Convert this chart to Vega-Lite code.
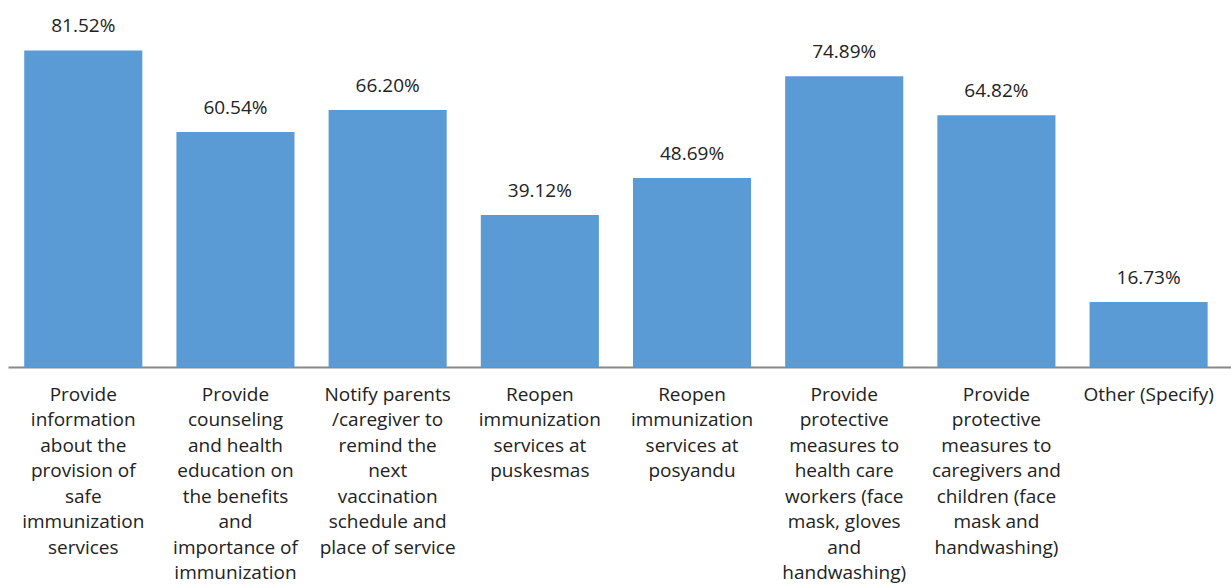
{
  "$schema": "https://vega.github.io/schema/vega-lite/v6.json",
  "width": 1223,
  "height": 367,
  "autosize": {"type": "none"},
  "padding": {"left": 8, "top": 0, "right": 0, "bottom": 219},
  "background": "white",
  "config": {"view": {"stroke": null}, "font": "Open Sans"},
  "data": {
    "values": [
      {"label": "Provide|information|about the|provision of|safe|immunization|services", "value": 0.8152},
      {"label": "Provide|counseling|and health|education on|the benefits|and|importance of|immunization", "value": 0.6054},
      {"label": "Notify parents|/caregiver to|remind the|next|vaccination|schedule and|place of service", "value": 0.6620},
      {"label": "Reopen|immunization|services at|puskesmas", "value": 0.3912},
      {"label": "Reopen|immunization|services at|posyandu", "value": 0.4869},
      {"label": "Provide|protective|measures to|health care|workers (face|mask, gloves|and|handwashing)", "value": 0.7489},
      {"label": "Provide|protective|measures to|caregivers and|children (face|mask and|handwashing)", "value": 0.6482},
      {"label": "Other (Specify)", "value": 0.1673}
    ]
  },
  "encoding": {
    "x": {
      "field": "label",
      "type": "nominal",
      "sort": null,
      "scale": {"paddingInner": 0.224, "paddingOuter": 0.13, "align": 0.41},
      "axis": {
        "title": null,
        "labelAngle": 0,
        "labelExpr": "split(datum.label, '|')",
        "labelFont": "Open Sans",
        "labelFontSize": 19,
        "labelColor": "#222222",
        "labelLineHeight": 25.5,
        "labelBaseline": "top",
        "labelPadding": 18,
        "labelLimit": 0,
        "labelOverlap": false,
        "ticks": false,
        "domainColor": "#898989",
        "domainWidth": 2
      }
    },
    "y": {
      "field": "value",
      "type": "quantitative",
      "scale": {"domain": [0, 0.945], "nice": false},
      "axis": null
    }
  },
  "layer": [
    {"mark": {"type": "bar", "color": "#5B9BD5"}},
    {
      "mark": {"type": "text", "font": "Open Sans", "baseline": "alphabetic", "dy": -18, "fontSize": 19, "color": "#222222"},
      "encoding": {"text": {"field": "value", "type": "quantitative", "format": ".2%"}}
    }
  ]
}
